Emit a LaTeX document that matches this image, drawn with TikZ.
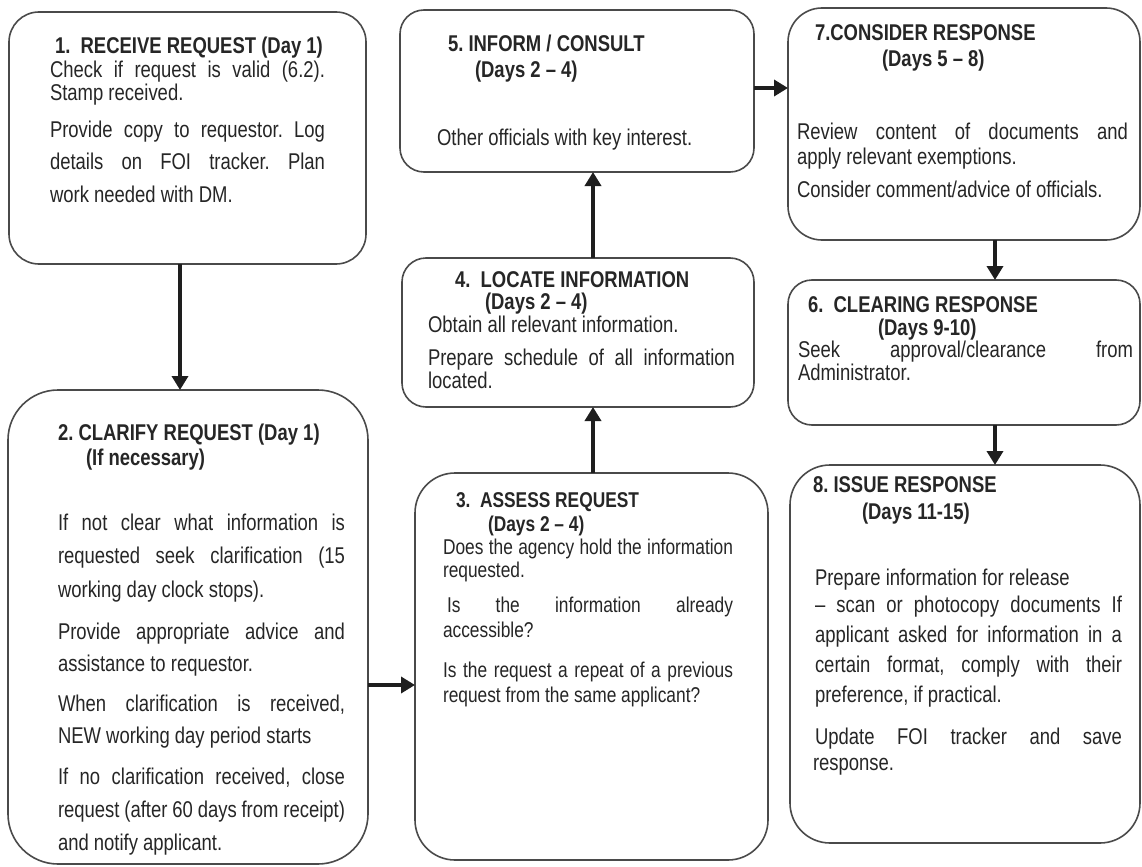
\documentclass[tikz,border=0pt]{standalone}
\usepackage{fontspec}
\setmainfont{Liberation Sans}[FakeStretch=0.81]
\usetikzlibrary{arrows.meta}
\definecolor{ink}{HTML}{262626}
\definecolor{edge}{HTML}{4A4A4A}
\definecolor{arrowc}{HTML}{1E1E1E}
\newcommand\jb[2]{\makebox[#1][s]{#2}}
\frenchspacing
\begin{document}
\begin{tikzpicture}[x=0.5pt,y=-0.5pt,
  box/.style={draw=edge,line width=0.8pt,rectangle,inner sep=0pt,outer sep=0pt},
  tline/.style={inner sep=0pt,outer sep=0pt,text=ink,anchor=base west,font=\fontsize{11.4}{12}\selectfont},
  small/.style={font=\fontsize{10.7}{12}\selectfont},
  ttl/.style={font=\fontsize{11.4}{12}\selectfont\bfseries},
  ttlsmall/.style={font=\fontsize{10.7}{12}\selectfont\bfseries},
  arr/.style={draw=arrowc,line width=2.2pt,-{Triangle[length=7pt,width=8pt]}}]
\useasboundingbox[fill=white] (0,0) rectangle (1142,867);

% boxes
\node[box,rounded corners=15pt,minimum width=178.5pt,minimum height=126pt] (b1) at (187.5,138) {};
\node[box,rounded corners=25pt,minimum width=180pt,minimum height=237pt] (b2) at (188,627) {};
\node[box,rounded corners=12pt,minimum width=177pt,minimum height=81pt] (b5) at (577,91) {};
\node[box,rounded corners=12pt,minimum width=176pt,minimum height=74.5pt] (b4) at (578,332.5) {};
\node[box,rounded corners=20pt,minimum width=176.5pt,minimum height=193.5pt] (b3) at (591.5,666.5) {};
\node[box,rounded corners=17pt,minimum width=176pt,minimum height=116pt] (b7) at (964,124) {};
\node[box,rounded corners=12pt,minimum width=176pt,minimum height=72.5pt] (b6) at (964,352.5) {};
\node[box,rounded corners=20pt,minimum width=175pt,minimum height=189pt] (b8) at (965,654) {};

% box 1
\node[tline,ttl] (t1) at (55,54) {1.\ \ RECEIVE REQUEST (Day 1)};
\node[tline] (t1a) at (50,77) {\jb{137.5pt}{Check if request is valid (6.2).}};
\node[tline] (t1b) at (50,100) {Stamp received.};
\node[tline] (t1c) at (50,137) {\jb{137.5pt}{Provide copy to requestor. Log}};
\node[tline] (t1d) at (50,169) {\jb{137.5pt}{details on FOI tracker. Plan}};
\node[tline] (t1e) at (50,202) {work needed with DM.};

% box 2
\node[tline,ttl] (t2) at (58,440) {2. CLARIFY REQUEST (Day 1)};
\node[tline,ttl] (t2s) at (86,465) {(If necessary)};
\node[tline] (t2a) at (58,530) {\jb{143.5pt}{If not clear what information is}};
\node[tline] (t2b) at (58,563) {\jb{143.5pt}{requested seek clarification (15}};
\node[tline] (t2c) at (58,597) {working day clock stops).};
\node[tline] (t2d) at (58,639) {\jb{143.5pt}{Provide appropriate advice and}};
\node[tline] (t2e) at (58,671) {assistance to requestor.};
\node[tline] (t2f) at (58,711) {\jb{143.5pt}{When clarification is received,}};
\node[tline] (t2g) at (58,743) {NEW working day period starts};
\node[tline] (t2h) at (58,784) {\jb{143.5pt}{If no clarification received, close}};
\node[tline] (t2i) at (58,817) {\jb{143.5pt}{request (after 60 days from receipt)}};
\node[tline] (t2j) at (58,850) {and notify applicant.};

% box 5
\node[tline,ttl] (t5) at (448,52) {5. INFORM / CONSULT};
\node[tline,ttl] (t5s) at (475,77) {(Days 2 – 4)};
\node[tline] (t5a) at (437,145) {Other officials with key interest.};

% box 4
\node[tline,ttl] (t4) at (455,287) {4.\ \ LOCATE INFORMATION};
\node[tline,ttl] (t4s) at (485,309) {(Days 2 – 4)};
\node[tline] (t4a) at (428,332) {Obtain all relevant information.};
\node[tline] (t4b) at (428,365) {\jb{153.5pt}{Prepare schedule of all information}};
\node[tline] (t4c) at (428,388) {located.};

% box 3
\node[tline,ttlsmall] (t3) at (456,507) {3.\ \ ASSESS REQUEST};
\node[tline,ttlsmall] (t3s) at (488,531) {(Days 2 – 4)};
\node[tline,small] (t3a) at (443,554) {\jb{145pt}{Does the agency hold the information}};
\node[tline,small] (t3b) at (443,577) {requested.};
\node[tline,small] (t3c) at (447,612) {\jb{143pt}{Is the information already}};
\node[tline,small] (t3d) at (443,637) {accessible?};
\node[tline,small] (t3e) at (443,677) {\jb{145pt}{Is the request a repeat of a previous}};
\node[tline,small] (t3f) at (443,702) {request from the same applicant?};

% box 7
\node[tline,ttl] (t7) at (815,40) {7.CONSIDER RESPONSE};
\node[tline,ttl] (t7s) at (882,67) {(Days 5 – 8)};
\node[tline] (t7a) at (797,139) {\jb{165.5pt}{Review content of documents and}};
\node[tline] (t7b) at (797,164) {apply relevant exemptions.};
\node[tline] (t7c) at (797,197) {Consider comment/advice of officials.};

% box 6
\node[tline,ttl] (t6) at (808,312) {6.\ \ CLEARING RESPONSE};
\node[tline,ttl] (t6s) at (878,335) {(Days 9-10)};
\node[tline] (t6a) at (798,357) {\jb{167.5pt}{Seek approval/clearance from}};
\node[tline] (t6b) at (798,380) {Administrator.};

% box 8
\node[tline,ttl] (t8) at (813,492) {8. ISSUE RESPONSE};
\node[tline,ttl] (t8s) at (862,519) {(Days 11-15)};
\node[tline] (t8a) at (815,585) {Prepare information for release};
\node[tline] (t8b) at (815,612) {\jb{153.5pt}{– scan or photocopy documents If}};
\node[tline] (t8c) at (815,642) {\jb{153.5pt}{applicant asked for information in a}};
\node[tline] (t8d) at (815,672) {\jb{153.5pt}{certain format, comply with their}};
\node[tline] (t8e) at (815,702) {preference, if practical.};
\node[tline] (t8f) at (815,744) {\jb{153.5pt}{Update FOI tracker and save}};
\node[tline] (t8g) at (813,770) {response.};

% connectors
\coordinate (x12) at (180,0);
\coordinate (y23) at (0,685);
\coordinate (x34) at (593,0);
\coordinate (y57) at (0,88);
\coordinate (x76) at (995,0);
\draw[arr] (b1.south -| x12) -- (b2.north -| x12);
\draw[arr] (b2.east |- y23) -- (b3.west |- y23);
\draw[arr] (b3.north -| x34) -- (b4.south -| x34);
\draw[arr] (b4.north -| x34) -- (b5.south -| x34);
\draw[arr] (b5.east |- y57) -- (b7.west |- y57);
\draw[arr] (b7.south -| x76) -- (b6.north -| x76);
\draw[arr] (b6.south -| x76) -- (b8.north -| x76);
\end{tikzpicture}
\end{document}
